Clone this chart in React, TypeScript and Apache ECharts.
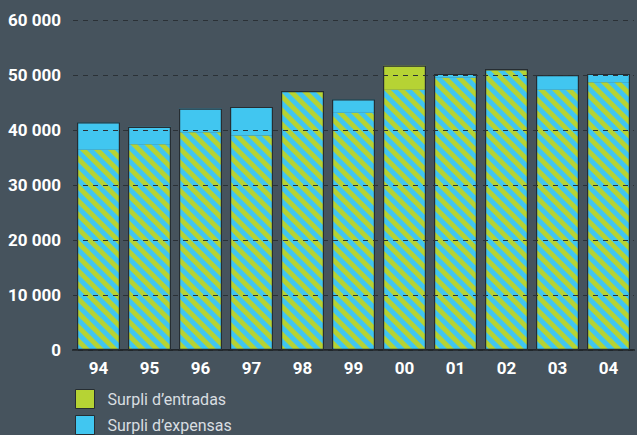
import React, { useEffect, useRef } from "react";
import * as echarts from "echarts";

const years = ["94", "95", "96", "97", "98", "99", "00", "01", "02", "03", "04"];
const ingressos = [36400, 37400, 39600, 39000, 46900, 43150, 51700, 49500, 51100, 47300, 48700];
const despeses = [41400, 40600, 43900, 44200, 47100, 45600, 47300, 50200, 50800, 50000, 50200];
const yTicks = [0, 10000, 20000, 30000, 40000, 50000, 60000];
const legendNames = ["Surpli d’entradas", "Surpli d’expensas"];

const GREEN = "#b6d334";
const CYAN = "#41c6f0";
const BG = "#46535d";
const EDGE = "#262d32";

function stripeUrl(p: number) {
  const h = p / 2;
  const svg =
    `<svg xmlns="http://www.w3.org/2000/svg" width="${p}" height="${p}">` +
    `<rect width="${p}" height="${p}" fill="${CYAN}"/>` +
    `<polygon points="0,0 ${h},0 ${p},${p - h} ${p},${p}" fill="${GREEN}"/>` +
    `<polygon points="0,${h} 0,${p} ${h},${p}" fill="${GREEN}"/>` +
    `</svg>`;
  return "data:image/svg+xml;charset=utf-8," + encodeURIComponent(svg);
}

export default function App() {
  const ref = useRef<HTMLDivElement>(null);
  useEffect(() => {
    if (!ref.current) return;
    const chart = echarts.init(ref.current, undefined, { renderer: "svg" });
    const base = ingressos.map((v, i) => Math.min(v, despeses[i]));
    const surIn = ingressos.map((v, i) => Math.max(0, v - despeses[i]));
    const surOut = ingressos.map((v, i) => Math.max(0, despeses[i] - v));
    const total = ingressos.map((v, i) => Math.max(v, despeses[i]));
    const font = "Roboto, sans-serif";
    const legendBase = {
      orient: "vertical",
      left: 75,
      padding: 0,
      itemWidth: 19,
      itemHeight: 19,
      icon: "rect",
      textStyle: { color: "#d9dee1", fontSize: 16, fontFamily: "Roboto, sans-serif", padding: [0, 0, 0, 8] },
      selectedMode: false,
    };
    chart.setOption({
      animation: false,
      backgroundColor: BG,
      grid: { left: 73, right: 3, top: 20, bottom: 85, outerBoundsMode: "none", containLabel: false },
      legend: legendNames.map((n, i) => ({
        ...legendBase,
        top: 389 + i * 26,
        data: [{ name: n, itemStyle: { borderColor: EDGE, borderWidth: 1 } }],
      })),
      xAxis: {
        type: "category",
        data: years,
        axisTick: { show: false },
        axisLine: { lineStyle: { color: "#20262a", width: 2 } },
        axisLabel: { color: "#ffffff", fontWeight: "bold", fontSize: 17, fontFamily: font, margin: 9 },
      },
      yAxis: {
        type: "value",
        min: 0,
        max: 60000,
        interval: 10000,
        z: 5,
        axisLine: { show: false },
        axisTick: { show: false },
        splitLine: { lineStyle: { color: "#2b3136", type: [5, 5], width: 1.2 } },
        axisLabel: {
          color: "#ffffff",
          fontWeight: "bold",
          fontSize: 17,
          fontFamily: font,
          margin: 12,
          formatter: (v: number) => (yTicks.includes(v) ? String(v).replace(/\B(?=(\d{3})+(?!\d))/g, " ") : ""),
        },
      },
      series: [
        {
          name: "base",
          type: "bar",
          stack: "s",
          barWidth: 43,
          data: base,
          itemStyle: { color: { image: stripeUrl(14), repeat: "repeat" } },
        },
        {
          name: legendNames[0],
          type: "bar",
          stack: "s",
          data: surIn,
          itemStyle: { color: GREEN },
        },
        {
          name: legendNames[1],
          type: "bar",
          stack: "s",
          data: surOut,
          itemStyle: { color: CYAN },
        },
        {
          name: "outline",
          type: "bar",
          barGap: "-100%",
          barWidth: 43,
          z: 3,
          data: total,
          silent: true,
          itemStyle: { color: "rgba(0,0,0,0)", borderColor: EDGE, borderWidth: 1.2 },
        },
      ],
    });
    return () => chart.dispose();
  }, []);
  return <div ref={ref} style={{ width: 637, height: 435, position: "fixed", left: 0, top: 0 }} />;
}
